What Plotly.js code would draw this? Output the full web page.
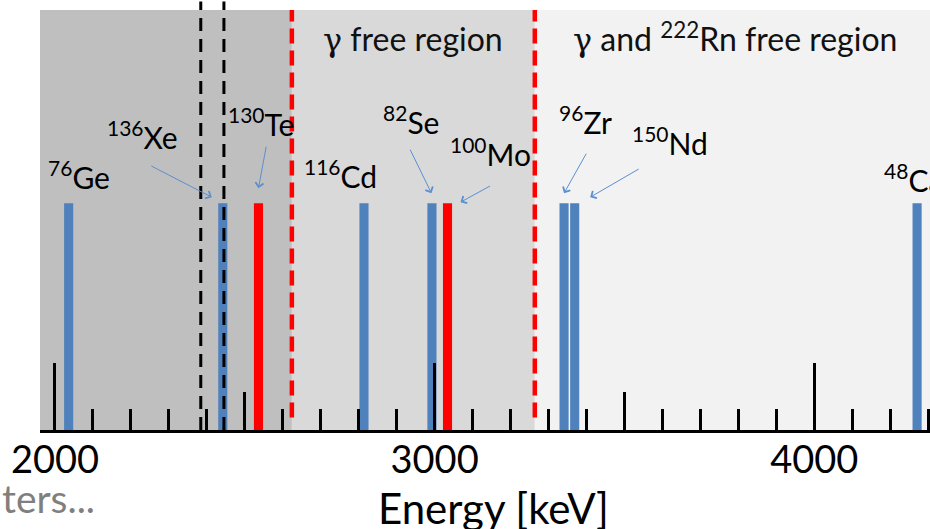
<!DOCTYPE html>
<html>
<head>
<meta charset="utf-8">
<script src="https://cdn.plot.ly/plotly-3.0.1.min.js"></script>
<style>html,body{margin:0;padding:0;overflow:hidden;background:#fff}</style>
</head>
<body>
<div id="chart" style="width:930px;height:529px"></div>
<script>
// ---- data ----
const isotopes   = ["76Ge", "136Xe", "130Te", "116Cd", "82Se", "100Mo", "96Zr", "150Nd", "48Ca"];
const massNums   = ["76", "136", "130", "116", "82", "100", "96", "150", "48"];
const elements   = ["Ge", "Xe", "Te", "Cd", "Se", "Mo", "Zr", "Nd", "Ca"];
const qValues    = [2036, 2442, 2536, 2814, 2993, 3034, 3341, 3369, 4271];   // keV
const barHeights = [54, 54, 54, 54, 54, 54, 54, 54, 54];
const barColors  = ["#4F81BD", "#4F81BD", "#FF0000", "#4F81BD", "#4F81BD", "#FF0000", "#4F81BD", "#4F81BD", "#4F81BD"];
const regionEdges = [2624, 3264];          // red dashed boundaries (keV)
const xeWindow    = [2384, 2445];          // black dashed lines (keV)
const xRange      = [1960.5, 4305];
const tickLabels  = ["2000", "3000", "4000"];
const midTicks    = [2500, 3500];

const FONT = "Lato, 'Noto Sans', sans-serif";
const GAMMA = "<span style=\"font-family:DejaVu Serif\">γ</span>";

const bars = {
  type: "bar",
  x: qValues,
  y: barHeights,
  width: 24,
  marker: {color: barColors, line: {width: 0}},
  hoverinfo: "skip",
  showlegend: false
};
const dummy = {type: "scatter", x: [], y: [], xaxis: "x2", yaxis: "y", showlegend: false, hoverinfo: "skip"};

// label offsets (pixels) relative to each bar top
const labelShift = {
  "76Ge":  {xs: 10.5, ys: 6,  anchor: "center"},
  "136Xe": {xs: -80,  ys: 46, anchor: "center"},
  "130Te": {xs: 2.5,  ys: 59, anchor: "center"},
  "116Cd": {xs: -23.5,ys: 7,  anchor: "center"},
  "82Se":  {xs: -21,  ys: 61, anchor: "center"},
  "100Mo": {xs: 43,   ys: 29, anchor: "center"},
  "96Zr":  {xs: 21,   ys: 61, anchor: "center"},
  "150Nd": {xs: 95.5, ys: 40, anchor: "center"},
  "48Ca":  {xs: -35,  ys: 3,  anchor: "left"}
};
// arrows: head offset from bar top, tail offset from head (pixels)
const arrowSpec = {
  "136Xe": {xs: -11, ys: 6,  ax: -62, ay: -32},
  "130Te": {xs: 0,   ys: 15, ax: 8,   ay: -43},
  "82Se":  {xs: -0.5,ys: 10, ax: -22, ay: -45},
  "100Mo": {xs: 13,  ys: 1,  ax: 31,  ay: -17},
  "96Zr":  {xs: 0,   ys: 10, ax: 23,  ay: -41},
  "150Nd": {xs: 15.5,ys: 6,  ax: 50,  ay: -29}
};

const annotations = [];
isotopes.forEach((iso, i) => {
  const s = labelShift[iso];
  annotations.push({
    x: qValues[i], y: barHeights[i], xref: "x", yref: "y",
    text: "<sup>" + massNums[i] + "</sup>" + elements[i],
    showarrow: false, xanchor: s.anchor, yanchor: "bottom",
    xshift: s.xs, yshift: s.ys,
    font: {family: FONT, size: 30, color: "#000"}
  });
  const a = arrowSpec[iso];
  if (a) {
    annotations.push({
      x: qValues[i], y: barHeights[i], xref: "x", yref: "y",
      text: "", showarrow: true, arrowhead: 4, arrowsize: 1.6, arrowwidth: 1,
      arrowcolor: "#5B8FD0", standoff: 0, startstandoff: 0,
      xshift: a.xs, yshift: a.ys, ax: a.ax, ay: a.ay
    });
  }
});
annotations.push({
  x: (regionEdges[0] + regionEdges[1]) / 2, y: 0.879, xref: "x", yref: "paper",
  text: GAMMA + " free region", showarrow: false, xanchor: "center", yanchor: "bottom",
  font: {family: FONT, size: 32, color: "#111"}
});
annotations.push({
  x: 3792, y: 0.879, xref: "x", yref: "paper",
  text: GAMMA + " and <sup>222</sup>Rn free region", showarrow: false, xanchor: "center", yanchor: "bottom",
  font: {family: FONT, size: 32, color: "#111"}
});
// axis title placed as text under the axis
annotations.push({
  x: 0.509, y: -0.25, xref: "paper", yref: "paper",
  text: "Energy [keV]", showarrow: false, xanchor: "center", yanchor: "bottom",
  font: {family: FONT, size: 42, color: "#000"}
});
annotations.push({
  x: -40/890, y: -0.222, xref: "paper", yref: "paper",
  text: "ters...", showarrow: false, xanchor: "left", yanchor: "bottom",
  font: {family: FONT, size: 39, color: "#7F7F7F"}
});

const shapes = [
  {type: "rect", xref: "x", yref: "paper", x0: xRange[0], x1: regionEdges[0], y0: 0, y1: 1, fillcolor: "#BFBFBF", line: {width: 0}, layer: "below"},
  {type: "rect", xref: "x", yref: "paper", x0: regionEdges[0], x1: regionEdges[1], y0: 0, y1: 1, fillcolor: "#D9D9D9", line: {width: 0}, layer: "below"},
  {type: "rect", xref: "x", yref: "paper", x0: regionEdges[1], x1: xRange[1], y0: 0, y1: 1, fillcolor: "#F2F2F2", line: {width: 0}, layer: "below"}
];
xeWindow.forEach(v => shapes.push({type: "line", xref: "x", yref: "paper", x0: v, x1: v, y0: 0, y1: 1.02,
  line: {color: "#000", width: 3, dash: "13px,8px"}, layer: "above"}));
regionEdges.forEach(v => shapes.push({type: "line", xref: "x", yref: "paper", x0: v, x1: v, y0: 0.03, y1: 1,
  line: {color: "#FF0000", width: 4.5, dash: "15px,7px"}, layer: "above"}));

const layout = {
  width: 930, height: 529,
  margin: {l: 40, r: 0, t: 10, b: 99, pad: 0},
  paper_bgcolor: "#FFFFFF", plot_bgcolor: "#FFFFFF",
  showlegend: false,
  font: {family: FONT, color: "#000"},
  xaxis: {
    range: xRange, tickmode: "array", tickvals: tickLabels.map(Number), ticktext: tickLabels,
    ticks: "inside", ticklen: 67, tickwidth: 3, tickcolor: "#000",
    showline: true, linewidth: 3, linecolor: "#000",
    showgrid: false, zeroline: false, ticklabelposition: "outside", ticklabelstandoff: -6,
    tickfont: {family: FONT, size: 38, color: "#000"},
    minor: {tickmode: "linear", tick0: 2000, dtick: 100, ticks: "inside", ticklen: 21, tickwidth: 3, tickcolor: "#000", showgrid: false},
    fixedrange: true
  },
  xaxis2: {
    range: xRange, overlaying: "x", anchor: "y", side: "bottom",
    tickmode: "array", tickvals: midTicks, ticks: "inside", ticklen: 38, tickwidth: 3, tickcolor: "#000",
    showticklabels: false, showline: false, showgrid: false, zeroline: false, fixedrange: true
  },
  yaxis: {range: [0, 100], visible: false, fixedrange: true},
  shapes: shapes,
  annotations: annotations
};

Plotly.newPlot("chart", [bars, dummy], layout, {displayModeBar: false, staticPlot: true});
</script>
</body>
</html>
